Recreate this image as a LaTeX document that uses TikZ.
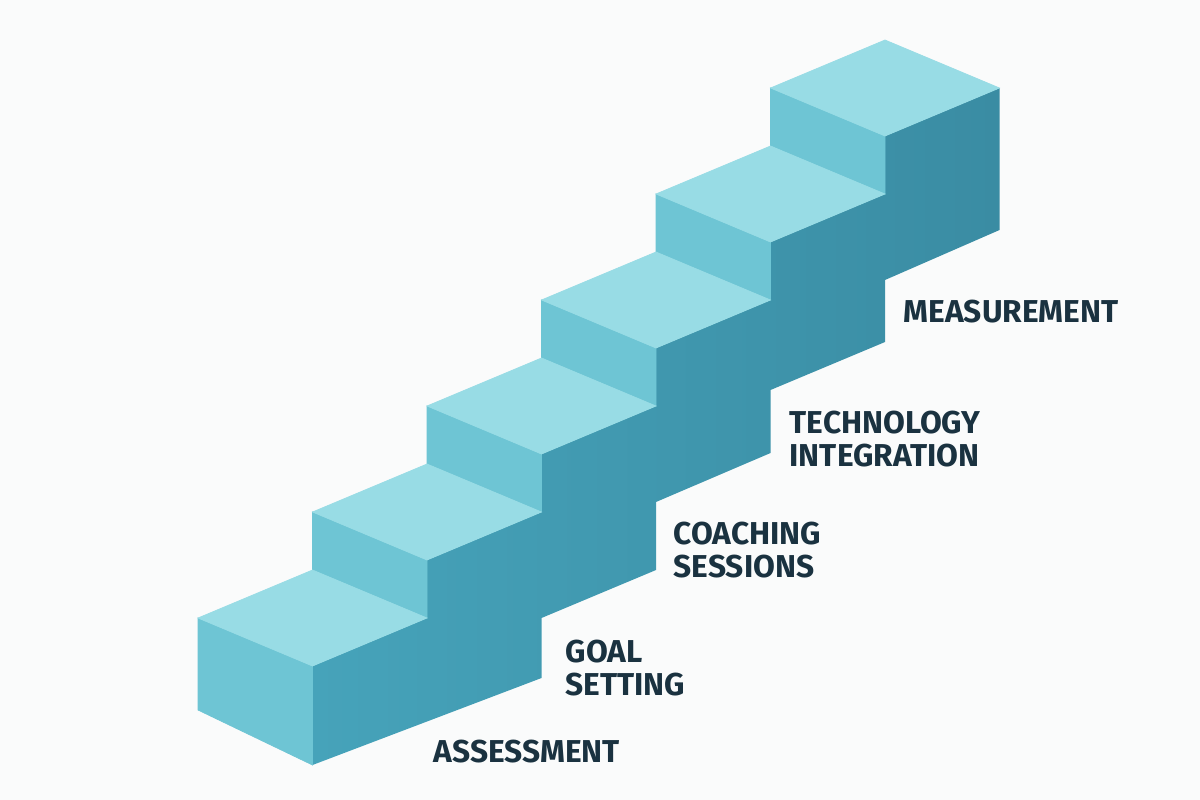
\documentclass[tikz,border=0pt]{standalone}
\usepackage{fontspec}
\setmainfont{Fira Sans}
\definecolor{bgc}{RGB}{250,251,251}
\definecolor{topc}{RGB}{152,220,229}
\definecolor{riserc}{RGB}{110,197,212}
\definecolor{sidelc}{RGB}{70,163,186}
\definecolor{siderc}{RGB}{58,140,163}
\definecolor{labelc}{RGB}{26,50,64}

\begin{document}
\begin{tikzpicture}[x=0.01cm,y=-0.01cm]
      \tikzset{
        topface/.style={fill=topc,draw=topc,line width=0.2pt},
        riserface/.style={fill=riserc,draw=riserc,line width=0.2pt},
        sideface/.style={left color=sidelc,right color=siderc},
        steplabel/.style={anchor=west,align=left,text=labelc,inner sep=0pt,
          font=\bfseries\fontsize{9}{9.4}\selectfont}
      }

      \fill[bgc] (0,0) rectangle (1200,800);
      \useasboundingbox (0,0) rectangle (1200,800);

      % dark side of the stair
      \shade[sideface] (312.5,666) -- (427,618) -- (427,560) -- (541.5,512) -- (541.5,454)
            -- (656,406) -- (656,348) -- (770.5,300) -- (770.5,242) -- (885,194)
            -- (885,136) -- (999.5,88) -- (999.5,230) -- (885,280) -- (885,342)
            -- (770.5,390) -- (770.5,453) -- (656,502) -- (656,570) -- (541.5,618)
            -- (541.5,678) -- (312.5,765) -- cycle;

      % left end and risers
      \filldraw[riserface] (198,618) -- ++(114.5,48) -- ++(0,99) -- ++(-114.5,-55) -- cycle;
      \filldraw[riserface] (312.5,570) -- ++(114.5,48) -- ++(0,-58) -- ++(-114.5,-48) -- cycle;
      \filldraw[riserface] (427,464) -- ++(114.5,48) -- ++(0,-58) -- ++(-114.5,-48) -- cycle;
      \filldraw[riserface] (541.5,358) -- ++(114.5,48) -- ++(0,-58) -- ++(-114.5,-48) -- cycle;
      \filldraw[riserface] (656,252) -- ++(114.5,48) -- ++(0,-58) -- ++(-114.5,-48) -- cycle;
      \filldraw[riserface] (770.5,146) -- ++(114.5,48) -- ++(0,-58) -- ++(-114.5,-48) -- cycle;

      % treads
      \filldraw[topface] (198,618) -- ++(114.5,48) -- ++(114.5,-48) -- ++(-114.5,-48) -- cycle;
      \filldraw[topface] (312.5,512) -- ++(114.5,48) -- ++(114.5,-48) -- ++(-114.5,-48) -- cycle;
      \filldraw[topface] (427,406) -- ++(114.5,48) -- ++(114.5,-48) -- ++(-114.5,-48) -- cycle;
      \filldraw[topface] (541.5,300) -- ++(114.5,48) -- ++(114.5,-48) -- ++(-114.5,-48) -- cycle;
      \filldraw[topface] (656,194) -- ++(114.5,48) -- ++(114.5,-48) -- ++(-114.5,-48) -- cycle;
      \filldraw[topface] (770.5,88) -- ++(114.5,48) -- ++(114.5,-48) -- ++(-114.5,-48) -- cycle;

      \node[steplabel] (assess) at (433,752) {ASSESSMENT};
      \node[steplabel] (goal) at (565,668) {GOAL\\SETTING};
      \node[steplabel] (coach) at (673,550) {COACHING\\SESSIONS};
      \node[steplabel] (tech) at (789,439) {TECHNOLOGY\\INTEGRATION};
      \node[steplabel] (measure) at (903,312) {MEASUREMENT};
    \end{tikzpicture}
\end{document}
